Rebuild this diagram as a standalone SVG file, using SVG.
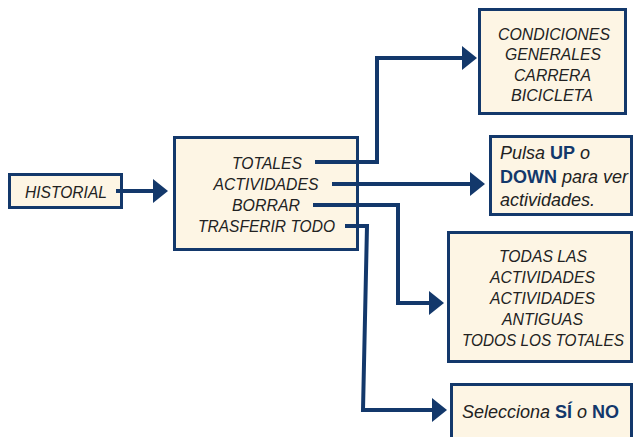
<svg xmlns="http://www.w3.org/2000/svg" width="635" height="437" viewBox="0 0 635 437">
<style>
.box{fill:#fdf5e4;stroke:#13386b;stroke-width:3}
.t{font-family:"Liberation Sans",Arial,sans-serif;font-style:italic;font-size:17px;fill:#222}
.s16{font-size:16.5px}
.s18{font-size:18px}
.c{text-anchor:middle}
.b{font-weight:bold;font-style:normal;fill:#13386b}
.ln{fill:none;stroke:#13386b;stroke-width:4;stroke-linejoin:miter}
</style>
<defs>
<marker id="ah" markerUnits="userSpaceOnUse" markerWidth="16" markerHeight="24" refX="2" refY="12" orient="auto" viewBox="0 0 16 24">
<path d="M0,0 L15,12 L0,24 z" fill="#13386b"/>
</marker>
</defs>
<rect width="635" height="437" fill="#ffffff"/>
<g id="historial">
<rect class="box" x="9.5" y="174.5" width="112" height="33"/>
<text class="t" x="66" y="198" text-anchor="middle" textLength="82" lengthAdjust="spacingAndGlyphs">HISTORIAL</text>
</g>
<g id="menu">
<rect class="box" x="174.5" y="137.5" width="183" height="112"/>
<text class="t c" x="267" y="169" textLength="70" lengthAdjust="spacingAndGlyphs">TOTALES</text>
<text class="t c" x="266" y="190" textLength="105" lengthAdjust="spacingAndGlyphs">ACTIVIDADES</text>
<text class="t c" x="266" y="211" textLength="68" lengthAdjust="spacingAndGlyphs">BORRAR</text>
<text class="t c" x="266.5" y="232" textLength="137" lengthAdjust="spacingAndGlyphs">TRASFERIR TODO</text>
</g>
<g id="totales">
<rect class="box" x="479.5" y="9.5" width="146" height="104"/>
<text class="t c" x="554" y="40" textLength="112" lengthAdjust="spacingAndGlyphs">CONDICIONES</text>
<text class="t c" x="553" y="60" textLength="96" lengthAdjust="spacingAndGlyphs">GENERALES</text>
<text class="t c" x="552.5" y="81" textLength="77" lengthAdjust="spacingAndGlyphs">CARRERA</text>
<text class="t c" x="552" y="101" textLength="82" lengthAdjust="spacingAndGlyphs">BICICLETA</text>
</g>
<g id="actividades">
<rect class="box" x="490.5" y="136.5" width="141" height="78"/>
<text class="t s18" x="500" y="159">Pulsa <tspan class="b">UP</tspan> o</text>
<text class="t s18" x="500" y="183"><tspan class="b">DOWN</tspan> para ver</text>
<text class="t s18" x="500" y="206">actividades.</text>
</g>
<g id="borrar">
<rect class="box" x="448.5" y="232.5" width="183" height="129"/>
<text class="t s16 c" x="543" y="262" textLength="88" lengthAdjust="spacingAndGlyphs">TODAS LAS</text>
<text class="t s16 c" x="542.5" y="283" textLength="105" lengthAdjust="spacingAndGlyphs">ACTIVIDADES</text>
<text class="t s16 c" x="542.5" y="304" textLength="105" lengthAdjust="spacingAndGlyphs">ACTIVIDADES</text>
<text class="t s16 c" x="542.5" y="325" textLength="81" lengthAdjust="spacingAndGlyphs">ANTIGUAS</text>
<text class="t s16 c" x="543" y="346" textLength="162" lengthAdjust="spacingAndGlyphs">TODOS LOS TOTALES</text>
</g>
<g id="trasferir">
<rect class="box" x="451.5" y="384.5" width="180" height="60"/>
<text class="t s18" x="462" y="418">Selecciona <tspan class="b">SÍ</tspan> o <tspan class="b">NO</tspan></text>
</g>
<g id="connectors">
<path class="ln" d="M116 191 H155" marker-end="url(#ah)"/>
<path class="ln" d="M315 162 H377 V58 H464" marker-end="url(#ah)"/>
<path class="ln" d="M332 184 H472" marker-end="url(#ah)"/>
<path class="ln" d="M313 205 H398 V303 H431" marker-end="url(#ah)"/>
<path class="ln" d="M345 226 H367 L363 410 H434" marker-end="url(#ah)"/>
</g>
</svg>
